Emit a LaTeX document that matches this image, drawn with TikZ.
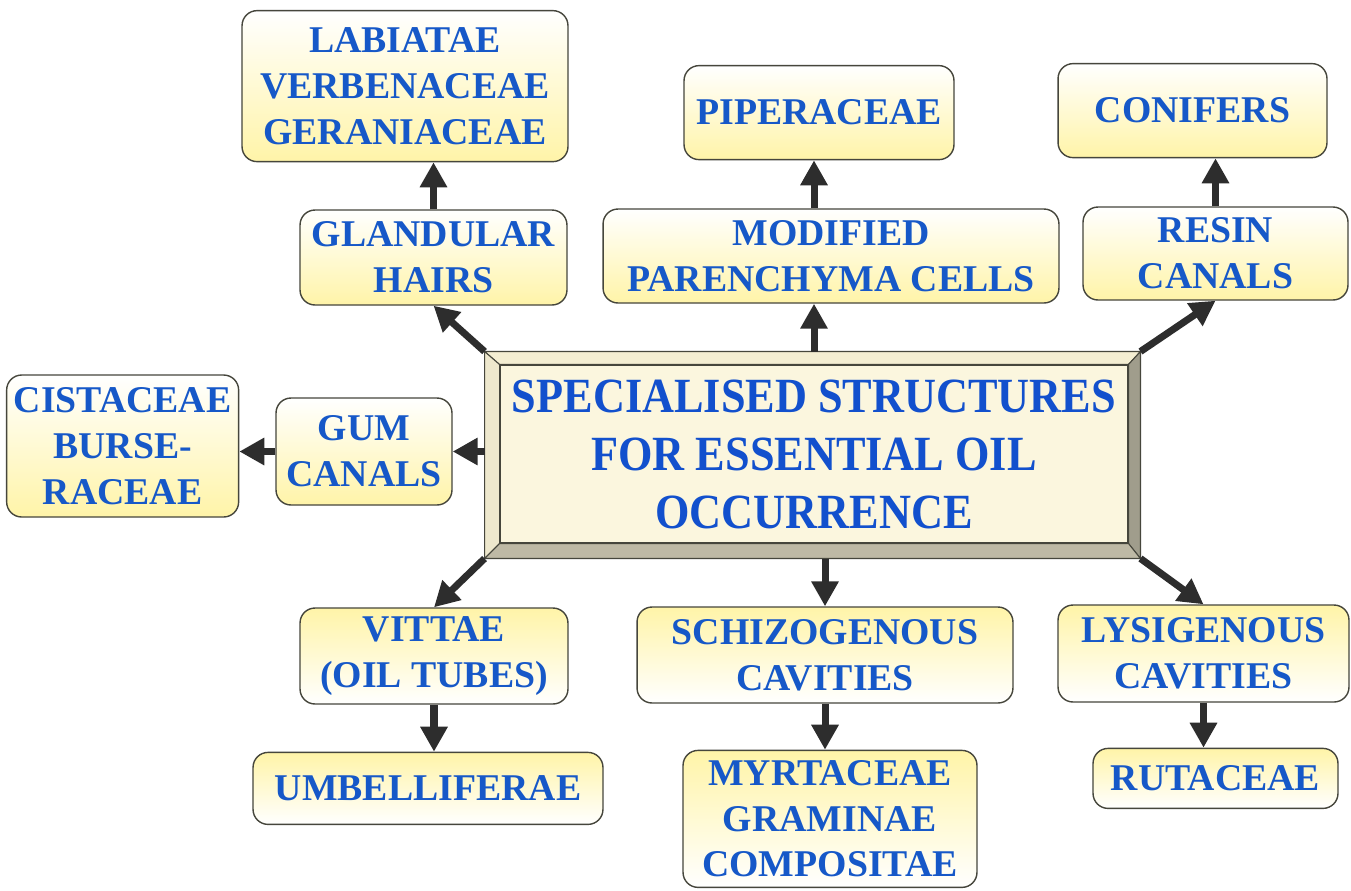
\documentclass[tikz,border=0pt]{standalone}
\usepackage{fontspec}
\setmainfont{Liberation Serif}
\newfontfamily\titlefam[FakeStretch=0.9]{Liberation Serif}
\usepackage{tikz}
\usetikzlibrary{arrows.meta, positioning, calc, backgrounds}
\definecolor{labelblue}{RGB}{22,88,200}
\definecolor{titleblue}{RGB}{18,80,205}
\definecolor{paleyellow}{RGB}{255,244,168}
\definecolor{boxline}{RGB}{70,70,60}
\definecolor{arrowgrey}{RGB}{45,45,45}
\definecolor{facecream}{RGB}{251,246,222}
\definecolor{bevtop}{RGB}{244,238,210}
\definecolor{bevleft}{RGB}{238,232,205}
\definecolor{bevright}{RGB}{160,157,140}
\definecolor{bevbottom}{RGB}{190,185,165}
\newcommand\leaffont{\fontsize{21.5}{26}\selectfont\bfseries}
\newcommand\titlefont{\titlefam\fontsize{28}{33}\selectfont\bfseries}

\begin{document}
\begin{tikzpicture}[
    x=0.02cm, y=-0.02cm,
    box/.style={draw=boxline, line width=0.8pt, rounded corners=0.3cm, align=center,
                font=\leaffont, text=labelblue, inner sep=2pt},
    upbox/.style={box, top color=white, bottom color=paleyellow},
    lowbox/.style={box, top color=paleyellow, bottom color=white},
    titlebox/.style={draw=boxline, line width=0.6pt, fill=facecream, align=center,
                font=\titlefont, text=titleblue, minimum width=12.56cm, minimum height=3.56cm},
    bevel/.style={draw=boxline, line width=0.6pt},
    arr/.style={-{Triangle[length=0.5cm, width=0.52cm]}, line width=4pt, draw=arrowgrey},
]
\useasboundingbox (0,0) rectangle (1351,890);
\node[titlebox] (main) at (814,454) {SPECIALISED STRUCTURES\\FOR ESSENTIAL OIL\\OCCURRENCE};
\coordinate (otl) at ($(main.north west)+(-15,-13)$);
\coordinate (otr) at ($(main.north east)+(12,-13)$);
\coordinate (obl) at ($(main.south west)+(-15,15)$);
\coordinate (obr) at ($(main.south east)+(12,15)$);

\node[upbox, minimum width=5.34cm, minimum height=1.9cm] (gland) at (433.5,257.5) {GLANDULAR\\HAIRS};
\node[upbox, minimum width=9.12cm, minimum height=1.88cm] (mod) at (831,256) {MODIFIED\\PARENCHYMA CELLS};
\node[upbox, minimum width=5.3cm, minimum height=1.86cm] (resin) at (1215.5,253.5) {RESIN\\CANALS};
\node[upbox, minimum width=3.52cm, minimum height=2.14cm] (gum) at (364,451.5) {GUM\\CANALS};
\node[lowbox, minimum width=5.36cm, minimum height=1.92cm] (vitt) at (434,656) {VITTAE\\(OIL TUBES)};
\node[lowbox, minimum width=7.52cm, minimum height=1.92cm] (schiz) at (825,655) {SCHIZOGENOUS\\CAVITIES};
\node[lowbox, minimum width=5.82cm, minimum height=1.94cm] (lys) at (1203.5,653.5) {LYSIGENOUS\\CAVITIES};

\node[upbox, minimum width=6.52cm, minimum height=3.02cm, above=0.94cm of gland, xshift=-0.57cm] (lab) {LABIATAE\\VERBENACEAE\\GERANIACEAE};
\node[upbox, minimum width=5.4cm, minimum height=1.88cm, above=0.96cm of mod, xshift=-0.24cm] (pip) {PIPERACEAE};
\node[upbox, minimum width=5.38cm, minimum height=1.88cm, above=0.96cm of resin, xshift=-0.46cm] (con) {CONIFERS};
\node[upbox, minimum width=4.64cm, minimum height=2.84cm, left=0.72cm of gum, yshift=0.11cm] (cist) {CISTACEAE\\BURSE-\\RACEAE};
\node[lowbox, minimum width=7.0cm, minimum height=1.44cm, below=0.94cm of vitt, xshift=-0.12cm] (umb) {UMBELLIFERAE};
\node[lowbox, minimum width=5.88cm, minimum height=2.74cm, below=0.92cm of schiz, xshift=0.1cm] (myr) {MYRTACEAE\\GRAMINAE\\COMPOSITAE};
\node[lowbox, minimum width=4.9cm, minimum height=1.2cm, below=0.9cm of lys, xshift=0.24cm] (rut) {RUTACEAE};

\begin{scope}[on background layer]
\fill[white] (0,0) rectangle (1351,890);
\filldraw[bevel, fill=bevtop] (otl) -- (otr) -- (main.north east) -- (main.north west) -- cycle;
\filldraw[bevel, fill=bevleft] (otl) -- (main.north west) -- (main.south west) -- (obl) -- cycle;
\filldraw[bevel, fill=bevright] (otr) -- (obr) -- (main.south east) -- (main.north east) -- cycle;
\filldraw[bevel, fill=bevbottom] (obl) -- (main.south west) -- (main.south east) -- (obr) -- cycle;
\end{scope}

\draw[arr] (otl) -- (gland.south);
\draw[arr] (main.north |- otl) -- (main.north |- mod.south);
\draw[arr] (otr) -- (resin.south);
\draw[arr] (gum.east -| otl) -- (gum.east);
\draw[arr] (obl) -- (vitt.north);
\draw[arr] (schiz.north |- obl) -- (schiz.north);
\draw[arr] (obr) -- (lys.north);

\draw[arr] (gland.north) -- (gland.north |- lab.south);
\draw[arr] (main.north |- mod.north) -- (main.north |- pip.south);
\draw[arr] (resin.north) -- (resin.north |- con.south);
\draw[arr] (gum.west) -- (gum.west -| cist.east);
\draw[arr] (vitt.south) -- (vitt.south |- umb.north);
\draw[arr] (schiz.south) -- (schiz.south |- myr.north);
\draw[arr] (lys.south) -- (lys.south |- rut.north);
\end{tikzpicture}
\end{document}
